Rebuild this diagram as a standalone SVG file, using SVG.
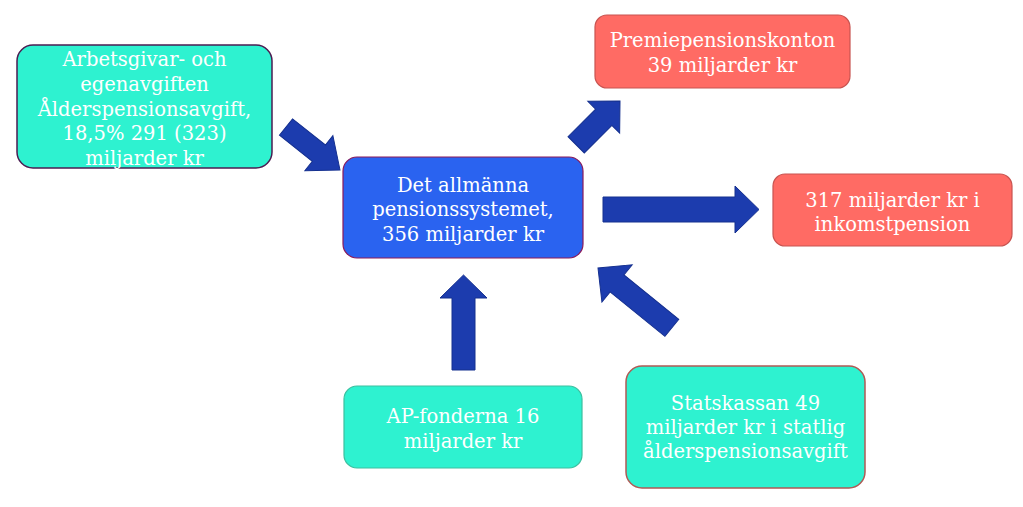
<svg xmlns="http://www.w3.org/2000/svg" width="1023" height="507" viewBox="0 0 1023 507">
<style>
.t{font-family:"DejaVu Serif","Liberation Serif",serif;font-size:19.5px;fill:#ffffff;text-anchor:middle}
.teal{fill:#2ef2d0}
.red{fill:#ff6b64}
.arr{fill:#1c3cae;stroke:#15308f;stroke-width:1}
</style>
<defs>
<path id="a1" d="M0,0 L-27,-22.5 L-27,-10.5 L-69,-10.5 L-69,10.5 L-27,10.5 L-27,22.5 Z"/>
</defs>
<rect width="1023" height="507" fill="#ffffff"/>
<g id="connectors">
<path class="arr" transform="translate(340,170) rotate(38.5)" d="M0,0 L-27,-22.5 L-27,-10.5 L-69,-10.5 L-69,10.5 L-27,10.5 L-27,22.5 Z"/>
<path class="arr" transform="translate(620,101) rotate(-45)" d="M0,0 L-23,-22.5 L-23,-11.5 L-62,-11.5 L-62,11.5 L-23,11.5 L-23,22.5 Z"/>
<path class="arr" transform="translate(759,209.5)" d="M0,0 L-24,-23.5 L-24,-12.5 L-156,-12.5 L-156,12.5 L-24,12.5 L-24,23.5 Z"/>
<path class="arr" transform="translate(463.5,275) rotate(-90)" d="M0,0 L-23,-23.5 L-23,-11.5 L-95,-11.5 L-95,11.5 L-23,11.5 L-23,23.5 Z"/>
<path class="arr" transform="translate(598,268) rotate(219)" d="M0,0 L-24.5,-24 L-24.5,-11 L-95,-11 L-95,11 L-24.5,11 L-24.5,24 Z"/>
</g>
<g id="node-avgifter">
<rect class="teal" x="17" y="45" width="255" height="123" rx="16" stroke="#4b1d52" stroke-width="1.5"/>
<text class="t" x="144.5" y="66">Arbetsgivar- och</text>
<text class="t" x="144.5" y="90.75">egenavgiften</text>
<text class="t" x="144.5" y="115.5">Ålderspensionsavgift,</text>
<text class="t" x="144.5" y="140.25">18,5% 291 (323)</text>
<text class="t" x="144.5" y="165">miljarder kr</text>
</g>
<g id="node-system">
<rect x="343" y="157" width="240" height="101" rx="14" fill="#2a63f0" stroke="#8b1a5a" stroke-width="1.2"/>
<text class="t" x="463" y="191.5">Det allmänna</text>
<text class="t" x="463" y="216">pensionssystemet,</text>
<text class="t" x="463" y="240.5">356 miljarder kr</text>
</g>
<g id="node-premie">
<rect class="red" x="595" y="15" width="255" height="73" rx="12" stroke="#c85450" stroke-width="1.2"/>
<text class="t" x="722.5" y="47">Premiepensionskonton</text>
<text class="t" x="722.5" y="71.5">39 miljarder kr</text>
</g>
<g id="node-inkomst">
<rect class="red" x="773" y="174" width="239" height="72" rx="12" stroke="#c85450" stroke-width="1.2"/>
<text class="t" x="892.5" y="206.5">317 miljarder kr i</text>
<text class="t" x="892.5" y="230.5">inkomstpension</text>
</g>
<g id="node-ap">
<rect class="teal" x="344" y="386" width="238" height="82" rx="13" stroke="#3cbf9f" stroke-width="1.2"/>
<text class="t" x="463" y="423.3">AP-fonderna 16</text>
<text class="t" x="463" y="448">miljarder kr</text>
</g>
<g id="node-statskassan">
<rect class="teal" x="626" y="366" width="239" height="122" rx="16" stroke="#b05a55" stroke-width="1.5"/>
<text class="t" x="745.5" y="410">Statskassan 49</text>
<text class="t" x="745.5" y="434">miljarder kr i statlig</text>
<text class="t" x="745.5" y="458">ålderspensionsavgift</text>
</g>
</svg>
